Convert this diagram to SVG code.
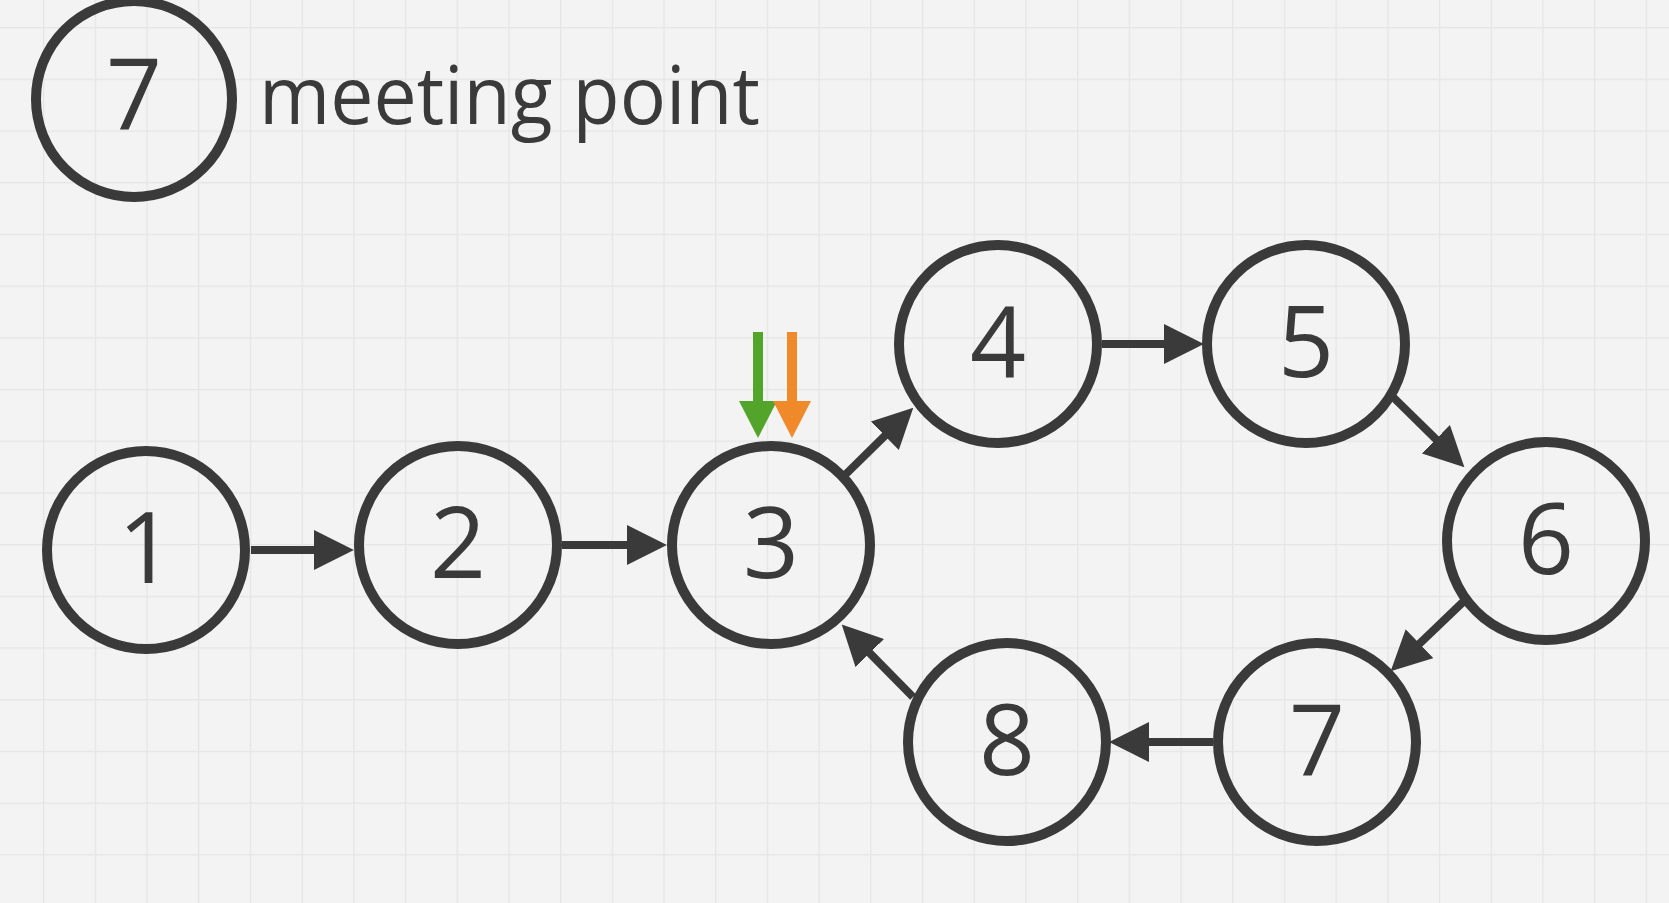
<svg xmlns="http://www.w3.org/2000/svg" width="1669" height="903" viewBox="0 0 1669 903">
  <defs>
    <pattern id="grid" patternUnits="userSpaceOnUse" x="43" y="27" width="51.7" height="51.7">
      <rect width="51.7" height="51.7" fill="#f3f3f3"/>
      <path d="M0 0 H51.7 M0 0 V51.7" stroke="#e5e5e5" stroke-width="2.5" fill="none"/>
    </pattern>
    <marker id="ah" markerUnits="userSpaceOnUse" markerWidth="40" markerHeight="40" viewBox="0 0 38 38" refX="2" refY="19" orient="auto">
      <path d="M0 0 L38 19 L0 38 Z" fill="#3a3a3a"/>
    </marker>
  </defs>
  <style>
    .node circle { fill: none; stroke: #3a3a3a; stroke-width: 10; }
    .node text, .big { font-family: "Open Sans", "Liberation Sans", sans-serif; font-size: 98px; fill: #3a3a3a; text-anchor: middle; }
    .edge { stroke: #3a3a3a; stroke-width: 8; fill: none; marker-end: url(#ah); }
    .label { font-family: "Open Sans", "Liberation Sans", sans-serif; font-size: 80px; fill: #3a3a3a; font-variant-ligatures: none; }
  </style>
  <rect width="1669" height="903" fill="url(#grid)"/>

  <g id="legend">
    <circle cx="134" cy="99" r="98" fill="none" stroke="#3a3a3a" stroke-width="10"/>
    <text class="big" x="134" y="129">7</text>
    <text class="label" x="259" y="124" textLength="501" lengthAdjust="spacingAndGlyphs">meeting point</text>
  </g>

  <g id="connectors">
    <line class="edge" x1="251" y1="550" x2="316" y2="550"/>
    <line class="edge" x1="562" y1="545" x2="629" y2="545"/>
    <line class="edge" x1="846" y1="474" x2="886.3" y2="434.3"/>
    <line class="edge" x1="1102" y1="344" x2="1166" y2="344"/>
    <line class="edge" x1="1393" y1="397" x2="1437.4" y2="440.7"/>
    <line class="edge" x1="1463" y1="602" x2="1418" y2="645.1"/>
    <line class="edge" x1="1213" y1="742" x2="1147" y2="742"/>
    <line class="edge" x1="913" y1="697" x2="868.3" y2="651.6"/>
  </g>

  <g id="pointers">
    <rect x="753" y="332" width="10" height="70" fill="#52a52a"/>
    <path d="M739 401 L777 401 L758 438 Z" fill="#52a52a"/>
    <rect x="787" y="332" width="10" height="70" fill="#f0892a"/>
    <path d="M773 401 L811 401 L792 438 Z" fill="#f0892a"/>
  </g>

  <g id="n1" class="node"><circle cx="146" cy="550" r="99"/><text x="146" y="583">1</text></g>
  <g id="n2" class="node"><circle cx="458" cy="545" r="99"/><text x="458" y="578">2</text></g>
  <g id="n3" class="node"><circle cx="771" cy="545" r="99"/><text x="771" y="578">3</text></g>
  <g id="n4" class="node"><circle cx="998" cy="344" r="99"/><text x="998" y="377">4</text></g>
  <g id="n5" class="node"><circle cx="1306" cy="344" r="99"/><text x="1306" y="377">5</text></g>
  <g id="n6" class="node"><circle cx="1546" cy="541" r="99"/><text x="1546" y="574">6</text></g>
  <g id="n7" class="node"><circle cx="1317" cy="742" r="99"/><text x="1317" y="775">7</text></g>
  <g id="n8" class="node"><circle cx="1007" cy="742" r="99"/><text x="1007" y="775">8</text></g>
</svg>
